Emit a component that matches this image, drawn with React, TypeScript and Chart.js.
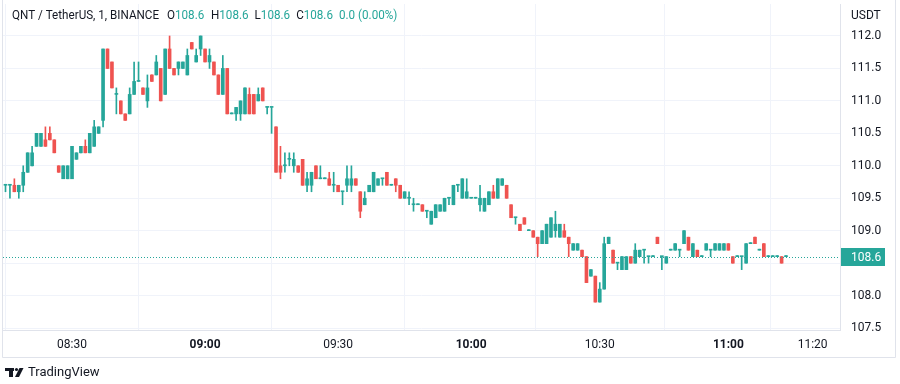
import React, { useEffect, useRef } from 'react';
import { Chart, registerables } from 'chart.js';

Chart.register(...registerables);

// ---- data (1-minute candles, QNT/USDT, 08:15 .. 11:10) ----
const opens = [
  109.7,109.7,109.7,109.6,109.7,109.9,110.0,110.3,110.3,110.4,
  110.5,110.4,110.0,109.8,109.8,109.8,110.1,110.2,110.3,110.2,
  110.3,110.5,110.7,111.8,111.6,111.1,111.0,110.8,110.8,111.1,
  111.3,111.2,111.0,111.4,111.4,111.5,111.1,111.8,111.5,111.5,
  111.5,111.4,111.9,111.6,111.8,111.8,111.6,111.6,111.4,111.1,
  111.5,110.8,110.8,110.8,110.8,111.1,111.1,111.0,111.2,110.9,
  110.9,110.6,110.0,110.0,110.1,110.0,110.0,110.1,109.7,109.7,
  110.0,109.8,109.8,109.8,109.7,109.7,109.6,109.7,109.7,109.8,
  109.6,109.4,109.6,109.6,109.7,109.8,109.9,109.7,109.8,109.7,
  109.5,109.5,109.4,109.4,109.4,109.3,109.1,109.2,109.3,109.3,
  109.5,109.4,109.7,109.5,109.5,109.5,109.5,109.4,109.3,109.4,
  109.6,109.5,109.7,109.7,109.4,109.2,109.1,109.2,109.0,109.0,
  108.9,108.8,108.8,108.9,109.0,108.9,109.0,108.9,108.7,108.7,
  108.7,108.6,108.3,108.3,107.9,108.1,108.8,108.7,108.5,108.4,
  108.4,108.6,108.5,108.6,108.7,108.6,108.6,108.9,108.6,108.5,
  108.7,108.7,108.7,108.8,108.9,108.6,108.7,108.6,108.7,108.7,
  108.7,108.7,108.7,108.8,108.6,108.6,108.6,108.5,108.8,108.9,
  108.7,108.8,108.6,108.6,108.6,108.6,108.6,
];
const highs = [
  109.7,109.7,109.8,109.7,110.0,110.2,110.3,110.5,110.5,110.6,
  110.6,110.4,110.0,110.0,110.0,110.3,110.2,110.3,110.4,110.5,
  110.7,110.6,111.8,111.8,111.6,111.2,111.0,110.8,111.2,111.6,
  111.6,111.2,111.4,111.4,111.7,111.5,111.8,112.0,111.5,111.6,
  111.6,111.8,111.9,111.8,112.0,111.8,111.8,111.6,111.4,111.7,
  111.5,110.8,110.9,111.0,111.2,111.2,111.1,111.2,111.2,110.9,
  110.9,110.6,110.3,110.2,110.2,110.2,110.0,110.1,109.9,109.9,
  110.0,110.0,109.8,109.9,109.9,109.7,109.6,110.0,110.0,109.8,
  109.6,109.6,109.7,109.9,109.8,109.8,109.9,109.7,109.8,109.7,
  109.6,109.6,109.5,109.4,109.4,109.3,109.3,109.4,109.4,109.5,
  109.5,109.7,109.7,109.8,109.8,109.5,109.5,109.7,109.5,109.6,
  109.7,109.8,109.8,109.7,109.4,109.2,109.1,109.2,109.0,109.0,
  108.9,109.0,109.1,109.2,109.3,109.1,109.1,108.9,108.8,108.8,
  108.7,108.6,108.4,108.3,108.2,108.9,108.9,108.7,108.5,108.6,
  108.6,108.6,108.8,108.7,108.7,108.6,108.6,108.9,108.6,108.6,
  108.7,108.8,108.7,109.0,108.9,108.8,108.7,108.6,108.8,108.7,
  108.8,108.8,108.8,108.8,108.6,108.6,108.6,108.8,108.8,108.9,
  108.7,108.8,108.6,108.6,108.6,108.6,108.6,
];
const lows = [
  109.6,109.5,109.6,109.5,109.6,109.9,110.0,110.3,110.3,110.3,
  110.4,110.2,109.9,109.8,109.8,109.8,110.1,110.2,110.2,110.2,
  110.3,110.5,110.6,111.5,111.2,110.8,110.8,110.7,110.8,111.1,
  111.3,111.1,110.9,111.3,111.4,111.0,111.1,111.5,111.4,111.4,
  111.5,111.4,111.8,111.6,111.7,111.6,111.5,111.4,111.1,111.1,
  110.8,110.8,110.7,110.7,110.8,110.8,110.8,111.0,111.0,110.8,
  110.5,109.9,109.8,109.9,110.0,109.9,109.9,109.7,109.6,109.6,
  109.8,109.8,109.8,109.7,109.6,109.6,109.4,109.6,109.6,109.7,
  109.2,109.4,109.6,109.6,109.7,109.7,109.7,109.7,109.6,109.5,
  109.5,109.4,109.3,109.4,109.3,109.2,109.1,109.2,109.3,109.3,
  109.4,109.4,109.6,109.5,109.5,109.5,109.5,109.3,109.3,109.4,
  109.5,109.5,109.7,109.5,109.2,109.1,109.0,109.1,109.0,108.9,
  108.6,108.8,108.8,108.9,108.9,108.9,108.9,108.6,108.7,108.7,
  108.6,108.2,108.3,107.9,107.9,108.1,108.8,108.5,108.4,108.4,
  108.4,108.5,108.5,108.6,108.5,108.5,108.6,108.8,108.4,108.5,
  108.7,108.7,108.6,108.8,108.7,108.6,108.6,108.6,108.7,108.6,
  108.7,108.7,108.7,108.7,108.5,108.6,108.4,108.5,108.8,108.8,
  108.7,108.6,108.6,108.6,108.6,108.5,108.6,
];
const closes = [
  109.7,109.7,109.6,109.7,109.9,110.2,110.2,110.5,110.5,110.3,
  110.4,110.2,109.9,110.0,110.0,110.3,110.2,110.3,110.2,110.5,
  110.6,110.6,111.8,111.5,111.2,111.1,110.8,110.7,111.1,111.3,
  111.3,111.1,111.2,111.3,111.6,111.0,111.8,111.5,111.4,111.6,
  111.6,111.7,111.8,111.7,112.0,111.6,111.7,111.4,111.1,111.5,
  110.8,110.8,110.9,111.0,111.2,110.8,110.8,111.1,111.0,110.9,
  110.9,109.9,109.9,110.0,110.1,110.1,109.9,109.7,109.8,109.9,
  109.8,109.8,109.8,109.7,109.7,109.6,109.6,109.8,109.8,109.7,
  109.3,109.5,109.7,109.9,109.8,109.8,109.7,109.7,109.7,109.5,
  109.6,109.5,109.4,109.4,109.3,109.3,109.3,109.4,109.4,109.5,
  109.5,109.7,109.7,109.8,109.6,109.5,109.5,109.5,109.5,109.6,
  109.5,109.8,109.8,109.5,109.2,109.2,109.0,109.1,109.0,108.9,
  108.8,109.0,109.1,109.2,109.1,109.1,108.9,108.8,108.8,108.8,
  108.6,108.2,108.4,107.9,108.1,108.8,108.9,108.5,108.5,108.6,
  108.6,108.5,108.7,108.7,108.7,108.6,108.6,108.8,108.6,108.6,
  108.7,108.8,108.7,109.0,108.7,108.8,108.6,108.6,108.8,108.7,
  108.8,108.8,108.8,108.7,108.5,108.6,108.6,108.8,108.8,108.8,
  108.7,108.6,108.6,108.6,108.6,108.5,108.6,
];

// time-axis ticks (bar index of each labelled minute) and price ticks
const tickBars = [15, 45, 75, 105, 134, 163, 182];
const tickLabels = ['08:30', '09:00', '09:30', '10:00', '10:30', '11:00', '11:20'];
const priceTicks = [107.5, 108.0, 108.5, 109.0, 109.5, 110.0, 110.5, 111.0, 111.5, 112.0];
const lastPrice = 108.6;

const symbolTitle = 'QNT / TetherUS, 1, BINANCE';
const legendKeys = ['O', 'H', 'L', 'C'];
const legendValues = ['108.6', '108.6', '108.6', '108.6'];
const changeText = '0.0 (0.00%)';
const currency = 'USDT';
const brand = 'TradingView';

const FONT = 'Roboto, "Open Sans", Arial, sans-serif';
const UP = '#26a69a';
const DOWN = '#ef5350';
const TEXT = '#131722';
const GRID = '#f0f3fa';
const BORDER = '#e0e3eb';

export default function App() {
  const ref = useRef<HTMLCanvasElement>(null);

  useEffect(() => {
    const canvas = ref.current;
    if (!canvas) return;
    const idx = closes.map((_, i) => i);
    const colors = idx.map((i) => (closes[i] >= opens[i] ? UP : DOWN));

    const overlay = {
      id: 'tvOverlay',
      beforeDraw(chart: any) {
        const c = chart.ctx;
        c.save();
        c.fillStyle = '#ffffff';
        c.fillRect(0, 0, chart.width, chart.height);
        c.restore();
      },
      afterDatasetsDraw(chart: any) {
        const c = chart.ctx;
        const a = chart.chartArea;
        const y = Math.round(chart.scales.y.getPixelForValue(lastPrice)) + 0.5;
        c.save();
        c.strokeStyle = UP;
        c.lineWidth = 1;
        c.setLineDash([1, 2]);
        c.beginPath();
        c.moveTo(a.left, y);
        c.lineTo(a.right, y);
        c.stroke();
        c.restore();
      },
      afterDraw(chart: any) {
        const c = chart.ctx;
        const a = chart.chartArea;
        c.save();
        // hide the part of the lowest price label that falls below the pane
        c.fillStyle = '#ffffff';
        c.fillRect(a.right + 1, a.bottom + 1, 54, 26);

        // outer frame
        c.strokeStyle = BORDER;
        c.lineWidth = 1;
        c.beginPath();
        c.moveTo(2.5, 0);
        c.lineTo(2.5, 357.5);
        c.lineTo(895.5, 357.5);
        c.lineTo(895.5, 0);
        c.stroke();

        // last price label
        const py = chart.scales.y.getPixelForValue(lastPrice);
        c.fillStyle = UP;
        c.fillRect(a.right + 1, Math.round(py) - 9, 44, 18);
        c.fillStyle = '#ffffff';
        c.font = `12px ${FONT}`;
        c.textBaseline = 'middle';
        c.textAlign = 'left';
        c.fillText(lastPrice.toFixed(1), a.right + 11, Math.round(py) + 0.5);

        // currency
        c.fillStyle = TEXT;
        c.fillText(currency, a.right + 11, 16);

        // legend line (horizontally condensed to match the narrow UI font)
        c.font = `13px ${FONT}`;
        const sx = 147 / c.measureText(symbolTitle).width;
        const put = (t: string, x: number, col: string) => {
          c.save();
          c.fillStyle = col;
          c.translate(x, 16);
          c.scale(sx, 1);
          c.fillText(t, 0, 0);
          c.restore();
          return c.measureText(t).width * sx;
        };
        let x = 12;
        x += put(symbolTitle, x, TEXT);
        const starts = [167, 211, 254, 295];
        legendKeys.forEach((k, i) => {
          x = Math.max(starts[i], x + 6);
          x += put(k, x, TEXT);
          x += put(legendValues[i], x, UP);
        });
        x = Math.max(338, x + 6);
        put(changeText, x, UP);

        // brand logo
        c.fillStyle = TEXT;
        c.fillRect(5, 368, 9, 3);
        c.fillRect(9, 368, 4, 9);
        c.beginPath();
        c.arc(16.5, 369.5, 1.6, 0, Math.PI * 2);
        c.fill();
        c.beginPath();
        c.moveTo(19.5, 368);
        c.lineTo(23.5, 368);
        c.lineTo(19, 377);
        c.lineTo(15, 377);
        c.closePath();
        c.fill();
        c.font = `13px ${FONT}`;
        c.fillText(brand, 28, 373);
        c.restore();
      },
    };

    const chart = new Chart(canvas, {
      type: 'bar',
      data: {
        datasets: [
          {
            label: 'body',
            data: idx.map((i) => ({ x: i, y: [Math.min(opens[i], closes[i]), Math.max(opens[i], closes[i])] })) as any,
            backgroundColor: colors,
            borderWidth: 0,
            barThickness: 3,
            minBarLength: 1,
            grouped: false,
            order: 1,
          } as any,
          {
            label: 'wick',
            data: idx.map((i) => ({ x: i, y: [lows[i], highs[i]] })) as any,
            backgroundColor: colors,
            borderWidth: 0,
            barThickness: 1,
            minBarLength: 1,
            grouped: false,
            order: 2,
          } as any,
        ],
      },
      options: {
        animation: false,
        responsive: false,
        maintainAspectRatio: false,
        layout: { padding: { left: 3, right: 5, top: 4, bottom: 27 } },
        plugins: { legend: { display: false }, tooltip: { enabled: false } },
        scales: {
          x: {
            type: 'linear',
            min: -0.564,
            max: 188.17,
            offset: false,
            grid: { color: GRID, drawTicks: false },
            border: { color: BORDER },
            ticks: {
              padding: 8,
              color: TEXT,
              maxRotation: 0,
              autoSkip: false,
              font: (ctx: any) => ({
                size: 12,
                family: FONT,
                weight: (tickLabels[ctx.index] || '').endsWith(':00') ? 'bold' : 'normal',
              }),
              callback: (_v: any, i: number) => tickLabels[i],
            },
            afterBuildTicks: (s: any) => {
              s.ticks = tickBars.map((v) => ({ value: v }));
            },
            afterFit: (s: any) => {
              s.height = 27;
              s.paddingLeft = 0;
              s.paddingRight = 0;
            },
          },
          y: {
            type: 'linear',
            position: 'right',
            min: 107.47,
            max: 112.493,
            grid: { color: GRID, drawTicks: false },
            border: { color: BORDER },
            ticks: {
              padding: 11,
              color: TEXT,
              font: { size: 12, family: FONT },
              callback: (v: any) => Number(v).toFixed(1),
            },
            afterBuildTicks: (s: any) => {
              s.ticks = priceTicks.map((v) => ({ value: v }));
            },
            afterFit: (s: any) => {
              s.width = 55;
              s.paddingTop = 0;
              s.paddingBottom = 0;
            },
          },
        },
      } as any,
      plugins: [overlay],
    });

    return () => chart.destroy();
  }, []);

  return (
    <div style={{ position: 'absolute', left: 0, top: 0, width: 900, height: 384, background: '#ffffff' }}>
      <canvas ref={ref} width={900} height={384} style={{ width: 900, height: 384, display: 'block' }} />
    </div>
  );
}
